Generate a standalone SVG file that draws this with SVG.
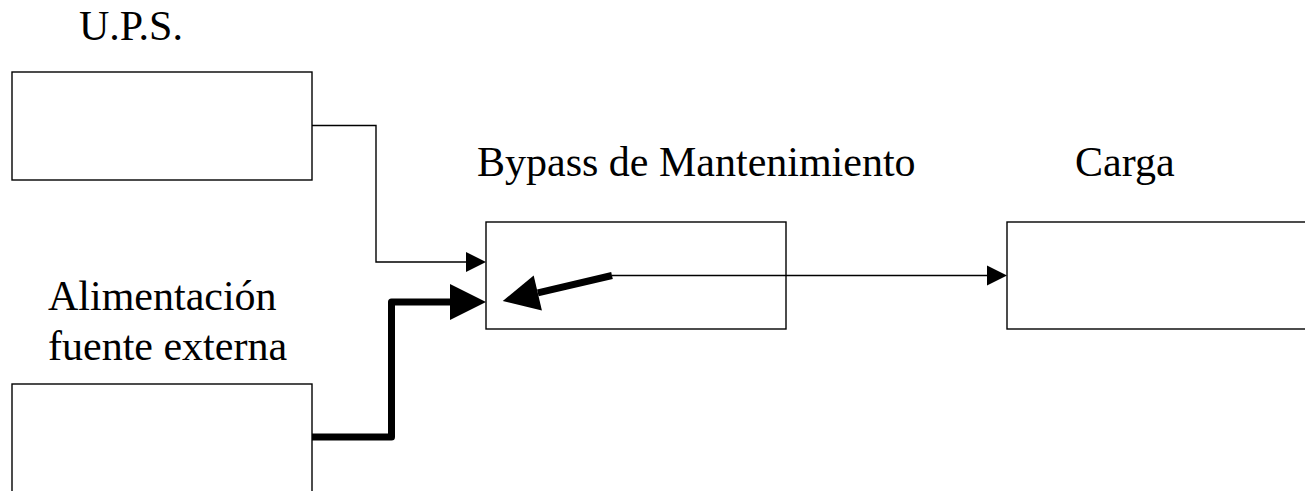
<svg xmlns="http://www.w3.org/2000/svg" width="1305" height="491" viewBox="0 0 1305 491">
  <style>
    .box { fill: #fff; stroke: #000; stroke-width: 1.4; }
    .label { font-family: "Liberation Serif", "Times New Roman", serif; font-size: 42px; fill: #000; }
    .thin { fill: none; stroke: #000; stroke-width: 1.4; }
    .thick { fill: none; stroke: #000; stroke-width: 7; stroke-linejoin: round; }
  </style>
  <defs>
    <marker id="head-thin" markerUnits="userSpaceOnUse" markerWidth="20" markerHeight="20" refX="0" refY="10" orient="auto" overflow="visible">
      <path d="M0,0 L20,10 L0,20 Z" fill="#000"/>
    </marker>
    <marker id="head-thick" markerUnits="userSpaceOnUse" markerWidth="36" markerHeight="36" refX="0" refY="18" orient="auto" overflow="visible">
      <path d="M0,0 L36,18 L0,36 Z" fill="#000"/>
    </marker>
  </defs>

  <rect width="1305" height="491" fill="#fff"/>

  <g id="connectors">
    <!-- UPS output into the bypass -->
    <path class="thin" d="M312,125.5 H376 V262 H466" marker-end="url(#head-thin)"/>
    <!-- external supply into the bypass (heavy) -->
    <path class="thick" d="M312,437 H391.5 V302 H450" marker-end="url(#head-thick)"/>
    <!-- bypass switch lever -->
    <path class="thick" d="M612,275.5 L537.8,292.9" marker-end="url(#head-thick)"/>
    <!-- bypass to load -->
    <path class="thin" d="M612,275.5 H987" marker-end="url(#head-thin)"/>
  </g>

  <g id="ups">
    <text class="label" x="79" y="39.5">U.P.S.</text>
    <rect class="box" x="12" y="72" width="300" height="108"/>
  </g>

  <g id="fuente-externa">
    <text class="label" x="48" y="310">Alimentación</text>
    <text class="label" x="48" y="360">fuente externa</text>
    <rect class="box" x="12" y="384" width="300" height="130"/>
  </g>

  <g id="bypass">
    <text class="label" x="477" y="176">Bypass de Mantenimiento</text>
    <rect class="box" x="486" y="222" width="300" height="107" fill="none" style="fill:none"/>
  </g>

  <g id="carga">
    <text class="label" x="1075" y="176">Carga</text>
    <rect class="box" x="1007" y="222" width="300" height="107"/>
  </g>
</svg>
